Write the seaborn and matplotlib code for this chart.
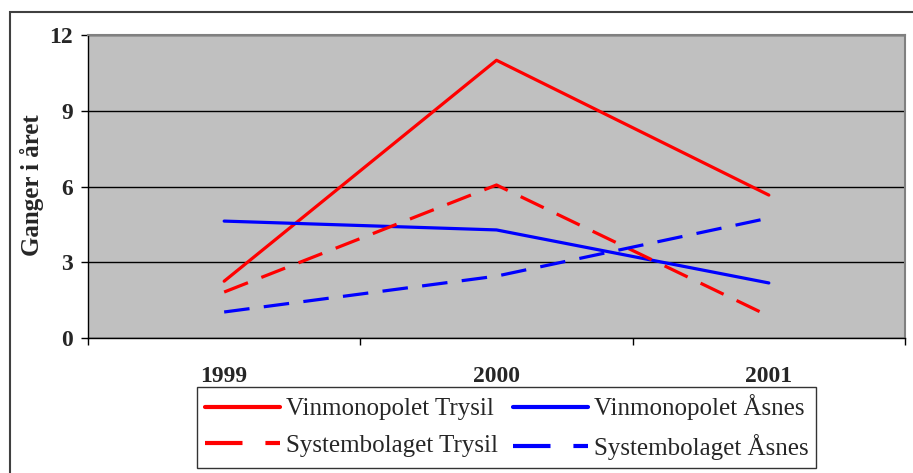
import matplotlib
matplotlib.use("Agg")
import matplotlib.pyplot as plt
import seaborn as sns
import pandas as pd
from matplotlib.patches import Rectangle
from matplotlib.lines import Line2D

years = ["1999", "2000", "2001"]
vinmonopolet_trysil = [2.25, 11.0, 5.66]
vinmonopolet_asnes = [4.63, 4.28, 2.18]
systembolaget_trysil = [1.82, 6.06, 0.87]
systembolaget_asnes = [1.03, 2.45, 4.75]
series_names = ["Vinmonopolet Trysil", "Vinmonopolet Åsnes",
                "Systembolaget Trysil", "Systembolaget Åsnes"]
y_label = "Ganger i året"
y_ticks = [0, 3, 6, 9, 12]

rows = []
for name, vals in zip(series_names, [vinmonopolet_trysil, vinmonopolet_asnes,
                                     systembolaget_trysil, systembolaget_asnes]):
    for i, v in enumerate(vals):
        rows.append({"pos": i, "value": v, "series": name})
df = pd.DataFrame(rows)

sns.set_style("white")
plt.rcParams["font.family"] = ["Liberation Serif", "DejaVu Serif"]

fig = plt.figure(figsize=(9.13, 4.73), dpi=100)
ax = fig.add_axes([88/913, 1-338/473, (905-88)/913, (338-35)/473])
ax.set_facecolor("#C0C0C0")

palette = {series_names[0]: "#FF0000", series_names[1]: "#0000FF",
           series_names[2]: "#FF0000", series_names[3]: "#0000FF"}
dashes = {series_names[0]: "", series_names[1]: "",
          series_names[2]: (8, 4.5), series_names[3]: (8, 4.5)}
sns.lineplot(data=df, x="pos", y="value", hue="series", style="series",
             hue_order=series_names, style_order=series_names,
             palette=palette, dashes=dashes, linewidth=2.3, ax=ax, legend=False)

ax.set_xlim(-0.5, 2.5)
ax.set_ylim(0, 12)
ax.set_yticks(y_ticks)
ax.set_yticklabels([str(t) for t in y_ticks], fontsize=17, fontweight="bold")
ax.set_xticks([0, 1, 2])
ax.set_xticklabels(years, fontsize=17, fontweight="bold")
ax.set_xticks([-0.5, 0.5, 1.5, 2.5], minor=True)
ax.tick_params(axis="x", which="major", length=0, pad=20)
ax.tick_params(axis="x", which="minor", length=5, width=1, direction="out", color="black", bottom=True)
ax.tick_params(axis="y", which="major", length=5, width=1, direction="out", color="black", pad=6, left=True)
ax.set_xlabel("")
ax.set_ylabel(y_label, fontsize=18, fontweight="bold")
ax.yaxis.set_label_coords(-0.054, 0.505)

ax.yaxis.grid(True, color="black", linewidth=1)
ax.set_axisbelow(True)
for s in ["left", "bottom"]:
    ax.spines[s].set_color("black")
    ax.spines[s].set_linewidth(1)
for s in ["top", "right"]:
    ax.spines[s].set_color("#808080")
    ax.spines[s].set_linewidth(1.5)

order = [0, 2, 1, 3]
handles = [Line2D([], [], color=palette[series_names[i]], linewidth=3,
                  linestyle="-" if dashes[series_names[i]] == "" else (0, (9, 5.5)))
           for i in order]
labels = [series_names[i] for i in order]
leg = fig.legend(handles, labels, loc="upper left",
                 bbox_to_anchor=(197/913, 1-387/473), ncol=2,
                 frameon=True, fancybox=False, edgecolor="black",
                 prop={"family": "Liberation Serif", "size": 18},
                 handlelength=3.0, handletextpad=0.25, columnspacing=0.6,
                 labelspacing=0.55, borderpad=0.3, borderaxespad=0)
leg.get_frame().set_linewidth(1)

fig.patches.append(Rectangle((10/913, -0.1), 1.0, 1-12/473+0.1,
                             transform=fig.transFigure, fill=False,
                             edgecolor="#404040", linewidth=1.5))

fig.savefig("out.png", dpi=100)
